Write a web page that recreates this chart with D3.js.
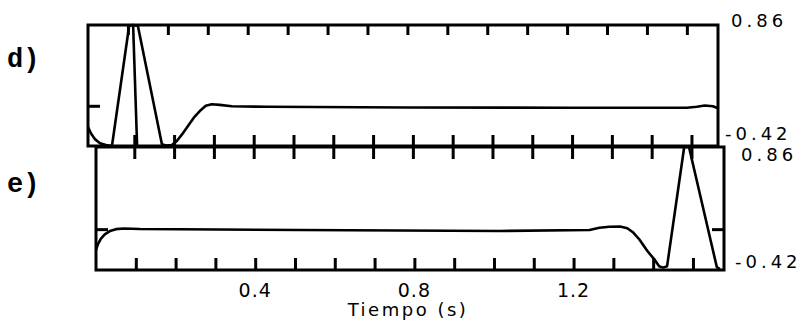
<html>
<head>
<style>
  body { margin: 0; background: white; }
  text { fill: black; }
</style>
</head>
<body>
<svg id="container" width="803" height="326"></svg>
<script src="https://cdn.jsdelivr.net/npm/d3@7"></script>
<script>
// trace d) : time (s), amplitude
let timeD = [0, 0.008, 0.018, 0.03, 0.045, 0.06, 0.103, 0.112, 0.125, 0.185, 0.195, 0.21, 0.222, 0.235, 0.25, 0.265, 0.28, 0.295, 0.31, 0.33, 0.36, 0.45, 0.8, 1.2, 1.5, 1.525, 1.545, 1.565, 1.578]
let ampD  = [-0.22, -0.29, -0.35, -0.39, -0.41, -0.42, 0.85, 0.86, 0.85, -0.40, -0.415, -0.41, -0.37, -0.3, -0.21, -0.12, -0.05, 0.005, 0.022, 0.015, 0.0, -0.005, -0.012, -0.015, -0.015, -0.005, 0.008, 0.0, -0.02]
// trace e)
let timeE = [0, 0.005, 0.012, 0.022, 0.035, 0.05, 0.07, 0.11, 0.51, 1.015, 1.24, 1.265, 1.29, 1.317, 1.335, 1.35, 1.365, 1.385, 1.405, 1.415, 1.425, 1.435, 1.478, 1.49, 1.56, 1.568]
let ampE  = [-0.21, -0.15, -0.095, -0.05, -0.015, 0.005, 0.012, 0.007, -0.004, -0.014, -0.004, 0.02, 0.03, 0.033, 0.015, -0.03, -0.1, -0.22, -0.32, -0.38, -0.395, -0.38, 0.86, 0.86, -0.39, -0.41]
let markerD = 0.118   // vertical marker in d)

let xTicks = d3.range(1, 16).map(i => i / 10)
let xLabels = [0.4, 0.8, 1.2]
let yMin = -0.42, yMax = 0.86

let svg = d3.select("#container")

let panels = [
  {name: "d)", t: timeD, a: ampD, left: 88, right: 718, top: 25, bottom: 146, labY: 67},
  {name: "e)", t: timeE, a: ampE, left: 96, right: 724, top: 147, bottom: 270, labY: 192}
]

for (let p of panels) {
  let x = d3.scaleLinear().domain([0, 1.578]).range([p.left, p.right])
  let y = d3.scaleLinear().domain([yMin, yMax]).range([p.bottom, p.top])
  p.x = x; p.y = y
  let g = svg.append("g")

  let line = d3.line().x(d => x(d[0])).y(d => y(d[1]))
  g.append("path")
    .datum(p.t.map((t, i) => [t, p.a[i]]))
    .attr("d", line)
    .attr("fill", "none").attr("stroke", "black")
    .attr("stroke-width", 2.6).attr("stroke-linejoin", "round")

  g.append("rect")
    .attr("x", p.left).attr("y", p.top)
    .attr("width", p.right - p.left).attr("height", p.bottom - p.top)
    .attr("fill", "none").attr("stroke", "black").attr("stroke-width", 3)

  // zero tick marks
  g.append("line").attr("x1", p.left).attr("x2", p.left + 12)
    .attr("y1", y(0)).attr("y2", y(0)).attr("stroke", "black").attr("stroke-width", 3)
  if (p.name == "e)") {
    g.append("line").attr("x1", p.right - 12).attr("x2", p.right)
      .attr("y1", y(0)).attr("y2", y(0)).attr("stroke", "black").attr("stroke-width", 3)
  }

  g.append("text").text(p.name)
    .attr("x", 7).attr("y", p.labY)
    .attr("font-family", "Liberation Mono").attr("font-weight", "bold").attr("font-size", 27)

  g.append("text").text(yMax.toFixed(2))
    .attr("x", p.right + (p.name == "d)" ? 13 : 17)).attr("y", p.top + (p.name == "d)" ? 2 : 14))
    .attr("font-family", "DejaVu Sans").attr("font-size", 18).attr("letter-spacing", 4)
  g.append("text").text("-" + Math.abs(yMin).toFixed(2))
    .attr("x", p.right + (p.name == "d)" ? 7 : 11)).attr("y", p.bottom - (p.name == "d)" ? 6 : 2))
    .attr("font-family", "DejaVu Sans").attr("font-size", 18).attr("letter-spacing", 4)
}

let d = panels[0], e = panels[1]
// marker line in d)
svg.append("line")
  .attr("x1", d.x(markerD) - 2).attr("x2", d.x(markerD) + 2)
  .attr("y1", d.top).attr("y2", d.bottom)
  .attr("stroke", "black").attr("stroke-width", 2.6)

function ticks(axis, yPos) {
  let g = svg.append("g").attr("transform", "translate(0," + yPos + ")")
    .call(axis.tickValues(xTicks).tickFormat(() => ""))
  g.select(".domain").remove()
  g.selectAll("line").attr("stroke", "black").attr("stroke-width", 3)
}
// top of d) pointing down, bottom of e) pointing up
ticks(d3.axisBottom(d.x).tickSize(10), d.top)
ticks(d3.axisTop(e.x).tickSize(12), e.bottom)

// shared line between d) and e): ticks crossing both ways, as filled bars
svg.append("g").selectAll("rect").data(xTicks).enter().append("rect")
  .attr("x", t => e.x(t) - 2.5).attr("y", 135)
  .attr("width", 3).attr("height", 24)
  .attr("fill", "black")

svg.append("g").selectAll("text").data(xLabels).enter().append("text")
  .text(t => t.toFixed(1))
  .attr("x", t => e.x(t)).attr("y", 297)
  .attr("text-anchor", "middle")
  .attr("font-family", "DejaVu Sans").attr("font-size", 19).attr("letter-spacing", 1)

svg.append("text").text("Tiempo (s)")
  .attr("x", 408).attr("y", 316)
  .attr("text-anchor", "middle")
  .attr("font-family", "DejaVu Sans").attr("font-size", 18).attr("letter-spacing", 2.5)
</script>
</body>
</html>
